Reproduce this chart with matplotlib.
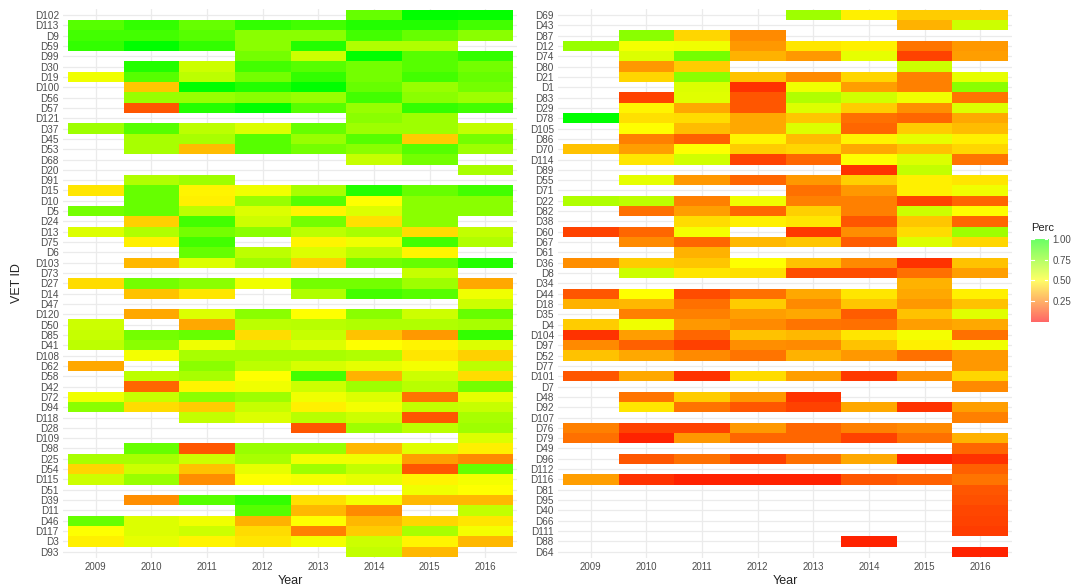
"""
Heatmap de porcentaje por veterinario y año, en dos paneles.
"""
import matplotlib
matplotlib.use('Agg')
import matplotlib.pyplot as plt
from matplotlib.colors import LinearSegmentedColormap
import numpy as np

plt.rcParams['font.family'] = ['Liberation Sans', 'DejaVu Sans']

NA = None

years = [2009, 2010, 2011, 2012, 2013, 2014, 2015, 2016]

left_ids = ['D102', 'D113', 'D9', 'D59', 'D99', 'D30', 'D19', 'D100', 'D56', 'D57',
            'D121', 'D37', 'D45', 'D53', 'D68', 'D20', 'D91', 'D15', 'D10', 'D5',
            'D24', 'D13', 'D75', 'D6', 'D103', 'D73', 'D27', 'D14', 'D47', 'D120',
            'D50', 'D85', 'D41', 'D108', 'D62', 'D58', 'D42', 'D72', 'D94', 'D118',
            'D28', 'D109', 'D98', 'D25', 'D54', 'D115', 'D51', 'D39', 'D11', 'D46',
            'D117', 'D3', 'D93']

right_ids = ['D69', 'D43', 'D87', 'D12', 'D74', 'D80', 'D21', 'D1', 'D83', 'D29',
             'D78', 'D105', 'D86', 'D70', 'D114', 'D89', 'D55', 'D71', 'D22', 'D82',
             'D38', 'D60', 'D67', 'D61', 'D36', 'D8', 'D34', 'D44', 'D18', 'D35',
             'D4', 'D104', 'D97', 'D52', 'D77', 'D101', 'D7', 'D48', 'D92', 'D107',
             'D76', 'D79', 'D49', 'D96', 'D112', 'D116', 'D81', 'D95', 'D40', 'D66',
             'D111', 'D88', 'D64']

# valores por fila (2009..2016), None = sin dato
left_perc = [
    [NA, NA, NA, NA, NA, 0.80, 1.00, 0.99],          # D102
    [0.83, 0.90, 0.80, 0.90, 0.87, 0.93, 0.93, 0.87],  # D113
    [0.87, 0.87, 0.83, 0.73, 0.73, 0.87, 0.80, 0.73],  # D9
    [0.90, 1.00, 0.90, 0.73, 0.93, 0.655, 0.655, NA],  # D59
    [NA, NA, NA, 0.77, 0.60, 1.00, 0.83, 0.90],      # D99
    [NA, 0.93, 0.60, 0.87, 0.83, 0.77, 0.83, 0.77],  # D30
    [0.53, 0.83, 0.63, 0.77, 0.90, 0.77, 0.87, 0.80],  # D19
    [NA, 0.39, 1.00, 0.93, 1.00, 0.80, 0.70, 0.77],  # D100
    [NA, 0.70, 0.70, 0.73, 0.70, 0.87, 0.73, 0.69],  # D56
    [NA, 0.17, 0.93, 1.00, 0.83, 0.70, 0.90, 0.87],  # D57
    [NA, NA, NA, NA, NA, 0.73, 0.69, NA],            # D121
    [0.69, 0.83, 0.63, 0.57, 0.80, 0.69, 0.69, 0.62],  # D37
    [NA, 0.67, 0.67, 0.83, 0.70, 0.83, 0.40, 0.77],  # D45
    [NA, 0.67, 0.37, 0.83, 0.77, 0.73, 0.83, 0.69],  # D53
    [NA, NA, NA, NA, NA, 0.61, 0.77, NA],            # D68
    [NA, NA, NA, NA, NA, NA, NA, 0.67],              # D20
    [NA, 0.655, 0.69, NA, NA, NA, NA, NA],           # D91
    [0.45, 0.80, 0.48, 0.53, 0.67, 0.93, 0.80, 0.87],  # D15
    [NA, 0.80, 0.47, 0.70, 0.83, 0.50, 0.73, 0.73],  # D10
    [0.77, 0.80, 0.63, 0.57, 0.48, 0.57, 0.73, 0.73],  # D5
    [NA, 0.41, 0.87, 0.60, 0.77, 0.44, 0.73, NA],    # D24
    [0.57, 0.655, 0.77, 0.73, 0.63, 0.67, 0.43, 0.62],  # D13
    [NA, 0.47, 0.87, NA, 0.48, 0.53, 0.87, 0.655],   # D75
    [NA, NA, 0.80, 0.63, 0.57, 0.63, 0.48, NA],      # D6
    [NA, 0.36, 0.57, 0.69, 0.41, 0.77, 0.80, 0.93],  # D103
    [NA, NA, NA, NA, NA, NA, 0.61, NA],              # D73
    [0.43, 0.77, 0.73, 0.53, 0.77, 0.77, 0.69, 0.33],  # D27
    [NA, 0.38, 0.45, NA, 0.655, 0.87, 0.83, 0.53],   # D14
    [NA, NA, NA, NA, NA, NA, NA, 0.60],              # D47
    [NA, 0.33, 0.57, 0.73, 0.50, 0.73, 0.60, 0.80],  # D120
    [0.60, NA, 0.33, 0.63, 0.64, 0.655, 0.655, 0.67],  # D50
    [0.61, 0.77, 0.80, 0.43, 0.61, 0.38, 0.30, 0.90],  # D85
    [0.63, 0.73, 0.53, 0.60, 0.57, 0.50, 0.48, 0.57],  # D41
    [NA, 0.52, 0.67, 0.67, 0.67, 0.655, 0.45, 0.41],  # D108
    [0.33, NA, 0.73, 0.63, 0.58, 0.55, 0.52, 0.63],  # D62
    [NA, 0.63, 0.67, 0.50, 0.87, 0.35, 0.60, 0.43],  # D58
    [NA, 0.20, 0.48, 0.53, 0.60, 0.69, 0.64, 0.77],  # D42
    [0.53, 0.61, 0.73, 0.69, 0.53, 0.57, 0.23, 0.55],  # D72
    [0.73, 0.43, 0.40, 0.61, 0.47, 0.52, 0.62, 0.61],  # D94
    [NA, NA, 0.62, 0.57, 0.64, 0.60, 0.17, 0.67],    # D118
    [NA, NA, NA, NA, 0.17, 0.69, 0.63, 0.69],        # D28
    [NA, NA, NA, NA, NA, NA, NA, 0.57],              # D109
    [NA, 0.80, 0.17, 0.70, 0.70, 0.36, 0.56, 0.47],  # D98
    [0.67, 0.67, 0.60, 0.67, 0.53, 0.53, 0.31, 0.27],  # D25
    [0.42, 0.60, 0.38, 0.55, 0.69, 0.62, 0.17, 0.80],  # D54
    [0.60, 0.70, 0.28, 0.50, 0.52, 0.55, 0.48, 0.52],  # D115
    [NA, NA, NA, NA, NA, NA, 0.53, 0.50],            # D51
    [NA, 0.28, 0.83, 0.90, 0.44, 0.52, 0.36, 0.36],  # D39
    [NA, NA, NA, 0.83, 0.36, 0.27, NA, 0.62],        # D11
    [0.80, 0.57, 0.53, 0.35, 0.50, 0.36, 0.42, 0.45],  # D46
    [0.50, 0.57, 0.60, 0.43, 0.25, 0.40, 0.67, 0.52],  # D117
    [0.47, 0.55, 0.48, 0.45, 0.52, 0.60, 0.48, 0.36],  # D3
    [NA, NA, NA, NA, NA, 0.62, 0.36, NA],            # D93
]

right_perc = [
    [NA, NA, NA, NA, 0.69, 0.47, 0.40, 0.40],        # D69
    [NA, NA, NA, NA, NA, NA, 0.35, 0.60],            # D43
    [NA, 0.73, 0.42, 0.27, NA, NA, NA, NA],          # D87
    [0.70, 0.52, 0.53, 0.30, 0.45, 0.47, 0.23, 0.30],  # D12
    [NA, 0.57, 0.77, 0.35, 0.30, 0.55, 0.13, 0.31],  # D74
    [NA, 0.30, 0.40, NA, NA, NA, 0.60, NA],          # D80
    [NA, 0.42, 0.73, 0.38, 0.27, 0.42, 0.25, 0.55],  # D21
    [NA, NA, 0.57, 0.10, 0.53, 0.31, 0.25, 0.73],    # D1
    [NA, 0.13, 0.56, 0.17, 0.655, 0.59, 0.53, 0.23],  # D83
    [NA, 0.48, 0.33, 0.17, 0.57, 0.40, 0.28, 0.57],  # D29
    [1.00, 0.44, 0.43, 0.33, 0.39, 0.22, 0.20, 0.33],  # D78
    [NA, 0.50, 0.37, 0.33, 0.57, 0.20, 0.40, 0.37],  # D105
    [NA, 0.25, 0.19, 0.48, 0.37, 0.48, 0.55, 0.47],  # D86
    [0.38, 0.31, 0.50, 0.40, 0.42, 0.33, 0.38, 0.42],  # D70
    [NA, 0.45, 0.59, 0.13, 0.20, 0.50, 0.57, 0.23],  # D114
    [NA, NA, NA, NA, NA, 0.10, 0.62, NA],            # D89
    [NA, 0.55, 0.30, 0.20, 0.30, 0.41, 0.47, 0.45],  # D55
    [NA, NA, NA, NA, 0.22, 0.30, 0.47, 0.53],        # D71
    [0.655, 0.63, 0.25, 0.53, 0.25, 0.25, 0.13, 0.20],  # D22
    [NA, 0.22, 0.31, 0.20, 0.41, 0.25, 0.60, 0.50],  # D82
    [NA, NA, 0.43, 0.47, 0.45, 0.17, 0.39, 0.20],    # D38
    [0.13, 0.20, 0.52, NA, 0.11, 0.28, 0.43, 0.69],  # D60
    [NA, 0.27, 0.20, 0.36, 0.39, 0.18, 0.57, 0.42],  # D67
    [NA, NA, 0.35, NA, NA, NA, NA, NA],              # D61
    [0.28, 0.40, 0.39, 0.50, 0.38, 0.27, 0.10, 0.38],  # D36
    [NA, 0.60, 0.45, 0.44, 0.15, 0.15, 0.22, 0.31],  # D8
    [NA, NA, NA, NA, NA, NA, 0.35, NA],              # D34
    [0.17, 0.50, 0.15, 0.22, 0.33, 0.45, 0.33, 0.47],  # D44
    [0.35, 0.36, 0.22, 0.40, 0.27, 0.39, 0.30, 0.38],  # D18
    [NA, 0.25, 0.25, 0.31, 0.33, 0.18, 0.38, 0.56],  # D35
    [0.40, 0.53, 0.30, 0.27, 0.23, 0.22, 0.31, 0.33],  # D4
    [0.10, 0.31, 0.20, 0.38, 0.36, 0.45, 0.52, 0.22],  # D104
    [0.27, 0.19, 0.125, 0.28, 0.27, 0.38, 0.47, 0.53],  # D97
    [0.38, 0.33, 0.27, 0.23, 0.35, 0.30, 0.22, 0.30],  # D52
    [NA, NA, NA, NA, NA, NA, NA, 0.30],              # D77
    [0.17, 0.33, 0.10, 0.43, 0.31, 0.11, 0.28, 0.42],  # D101
    [NA, NA, NA, NA, NA, NA, NA, 0.27],              # D7
    [NA, 0.23, 0.40, 0.30, 0.10, NA, NA, NA],        # D48
    [NA, 0.45, 0.23, 0.17, 0.13, 0.33, 0.10, 0.31],  # D92
    [NA, NA, NA, NA, NA, NA, NA, 0.25],              # D107
    [0.25, 0.13, 0.13, 0.30, 0.20, 0.25, 0.27, NA],  # D76
    [0.22, 0.07, 0.30, 0.20, 0.20, 0.13, 0.22, 0.35],  # D79
    [NA, NA, NA, NA, NA, NA, NA, 0.20],              # D49
    [NA, 0.17, 0.22, 0.125, 0.22, 0.33, 0.07, 0.10],  # D96
    [NA, NA, NA, NA, NA, NA, NA, 0.19],              # D112
    [0.31, 0.10, 0.07, 0.07, 0.07, 0.17, 0.19, 0.23],  # D116
    [NA, NA, NA, NA, NA, NA, NA, 0.17],              # D81
    [NA, NA, NA, NA, NA, NA, NA, 0.16],              # D95
    [NA, NA, NA, NA, NA, NA, NA, 0.14],              # D40
    [NA, NA, NA, NA, NA, NA, NA, 0.13],              # D66
    [NA, NA, NA, NA, NA, NA, NA, 0.12],              # D111
    [NA, NA, NA, NA, NA, 0.07, NA, NA],              # D88
    [NA, NA, NA, NA, NA, NA, NA, 0.07],              # D64
]

GRIS_GRID = '#EBEBEB'
GRIS_TEXTO = '#4D4D4D'
cmap = LinearSegmentedColormap.from_list('ryg', ['#FF0000', '#FFFF00', '#00FF00'])


def dibujar_panel(ax, ids, perc):
    """Dibuja un panel del heatmap con su grilla estilo ggplot minimal."""
    datos = np.ma.masked_invalid(np.array(perc, dtype=float))
    n = len(ids)
    x_edges = np.arange(years[0] - 0.5, years[-1] + 1.0, 1.0)
    y_edges = np.arange(-0.5, n, 1.0)

    ax.set_axisbelow(True)
    ax.pcolormesh(x_edges, y_edges, datos, cmap=cmap, vmin=0, vmax=1,
                  shading='flat', edgecolors='none', zorder=2)

    ax.set_xlim(years[0] - 0.59, years[-1] + 0.57)
    ax.set_ylim(n - 1 + 0.6, -0.6)
    ax.set_xticks(years)
    ax.set_xticklabels([str(y) for y in years], fontsize=7, color=GRIS_TEXTO)
    ax.set_yticks(range(n))
    ax.set_yticklabels(ids, fontsize=7.2, color=GRIS_TEXTO)
    ax.tick_params(length=0, pad=3)
    ax.grid(True, color=GRIS_GRID, linewidth=0.9)
    for s in ax.spines.values():
        s.set_visible(False)
    ax.set_xlabel('Year', fontsize=9, color='#222222', labelpad=2)


fig = plt.figure(figsize=(10.79, 5.88), dpi=100)
ax1 = fig.add_axes([0.0584, 0.0512, 0.4208, 0.9338])
ax2 = fig.add_axes([0.5171, 0.0512, 0.4208, 0.9338])

dibujar_panel(ax1, left_ids, left_perc)
dibujar_panel(ax2, right_ids, right_perc)

fig.text(17 / 1079, 0.518, 'VET ID', rotation=90, fontsize=9, color='#222222',
         ha='center', va='center')

# leyenda de color
cax = fig.add_axes([0.9555, 0.4524, 0.0158, 0.1412])
grad = np.linspace(0, 1, 256).reshape(-1, 1)
cax.imshow(grad, cmap=cmap, origin='lower', aspect='auto', extent=[0, 1, 0, 1],
           alpha=0.6)
ticks = [0.25, 0.50, 0.75, 1.00]
cax.set_xlim(0, 1)
cax.set_ylim(0, 1)
for t in ticks:
    cax.plot([0, 0.2], [t, t], color='white', lw=0.8)
    cax.plot([0.8, 1], [t, t], color='white', lw=0.8)
cax.set_xticks([])
cax.yaxis.tick_right()
cax.set_yticks(ticks)
cax.set_yticklabels(['0.25', '0.50', '0.75', '1.00'], fontsize=7, color=GRIS_TEXTO)
cax.tick_params(length=0, pad=3)
for s in cax.spines.values():
    s.set_visible(False)
fig.text(1031 / 1079, 1 - 228 / 588, 'Perc', fontsize=8, color='#222222',
         ha='left', va='center')

fig.savefig('out.png', dpi=100)
